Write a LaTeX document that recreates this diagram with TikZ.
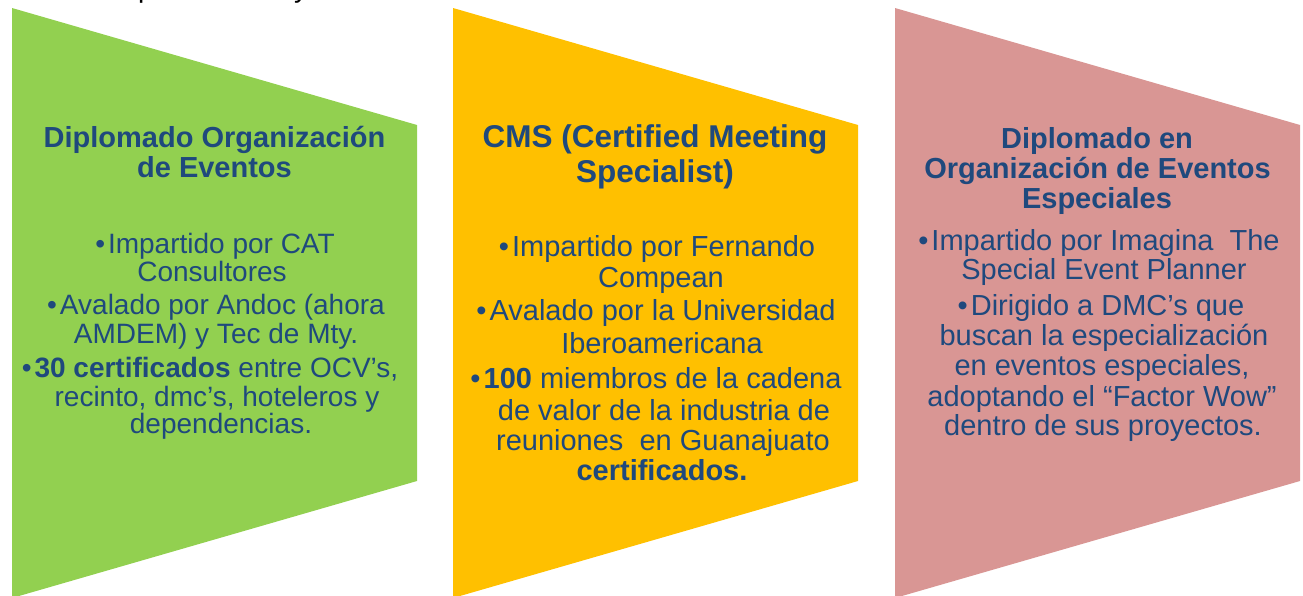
\documentclass[tikz,border=0pt]{standalone}
\usepackage{fontspec}
\setmainfont{Liberation Sans}
\definecolor{cgreen}{HTML}{92D050}
\definecolor{cyellow}{HTML}{FFC000}
\definecolor{cpink}{HTML}{D99694}
\definecolor{ctext}{HTML}{1F497D}
\newcommand{\bul}{•\hspace{3pt}}
\begin{document}
\begin{tikzpicture}[x=1pt,y=-1pt,
  txt/.style={anchor=base,inner sep=0pt,outer sep=0pt,text=ctext,font=\fontsize{29}{29}\selectfont},
  tsm/.style={txt,font=\fontsize{28}{28}\selectfont},
  ttl/.style={txt,font=\bfseries\fontsize{29}{29}\selectfont},
  tbig/.style={txt,font=\bfseries\fontsize{31.5}{31.5}\selectfont},
  cut/.style={anchor=base,inner sep=0pt,text=black,font=\fontsize{28}{28}\selectfont}]
\useasboundingbox (0,0) rectangle (1303,595);
\begin{scope}
\clip (0,0) rectangle (1303,595);
% shapes
\fill[cgreen]  (12,8)  -- (417,125)  -- (417,481)  -- (12,598)  -- cycle;
\fill[cyellow] (453,8) -- (858,125)  -- (858,481)  -- (453,598) -- cycle;
\fill[cpink]   (895,8) -- (1300,125) -- (1300,481) -- (895,598) -- cycle;
% cut-off text at the top
\node[cut] (cutp) at (146,-3) {p};
\node[cut] (cuty) at (301,-3) {y};
\end{scope}
% green column
\node[ttl] (g1) at (214.5,147) {Diplomado Organización};
\node[ttl] (g2) at (214.5,177) {de Eventos};
\node[tsm] (g3) at (215,253) {\bul Impartido por CAT};
\node[tsm] (g4) at (212,281) {Consultores};
\node[tsm] (g5) at (216,314) {\bul Avalado por Andoc (ahora};
\node[tsm] (g6) at (216,343) {AMDEM) y Tec de Mty.};
\node[tsm] (g7) at (210,377) {\bul\textbf{30 certificados} entre OCV’s,};
\node[tsm] (g8) at (217,406) {recinto, dmc’s, hoteleros y};
\node[tsm] (g9) at (221,433) {dependencias.};
% yellow column
\node[tbig] (y1) at (655,147) {CMS (Certified Meeting};
\node[tbig] (y2) at (655,182) {Specialist)};
\node[txt] (y3) at (657,256) {\bul Impartido por Fernando};
\node[txt] (y4) at (661,287) {Compean};
\node[txt] (y5) at (656,320) {\bul Avalado por la Universidad};
\node[txt] (y6) at (662,353) {Iberoamericana};
\node[txt] (y7) at (656,388) {\bul\textbf{100} miembros de la cadena};
\node[txt] (y8) at (664,420) {de valor de la industria de};
\node[txt] (y9) at (663,450) {reuniones\ \ en Guanajuato};
\node[txt] (y10) at (662,480) {\textbf{certificados.}};
% pink column
\node[ttl] (p1) at (1097,148) {Diplomado en};
\node[ttl] (p2) at (1097.5,178) {Organización de Eventos};
\node[ttl] (p3) at (1097,208) {Especiales};
\node[txt] (p4) at (1099,250) {\bul Impartido por Imagina\ \ The};
\node[txt] (p5) at (1104,279) {Special Event Planner};
\node[txt] (p6) at (1101,315) {\bul Dirigido a DMC’s que};
\node[txt] (p7) at (1104,345) {buscan la especialización};
\node[txt] (p8) at (1102,375) {en eventos especiales,};
\node[txt] (p9) at (1102,406) {adoptando el “Factor Wow”};
\node[txt] (p10) at (1103,435) {dentro de sus proyectos.};
\end{tikzpicture}
\end{document}
